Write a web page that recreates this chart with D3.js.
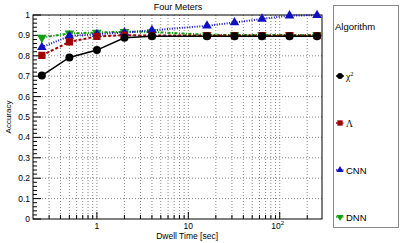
<!DOCTYPE html>
<html>
<head>
<meta charset="utf-8">
<script src="https://d3js.org/d3.v7.min.js"></script>
<style>
  body { margin: 0; background: #fff; }
  svg { font-family: "Liberation Sans", Arial, sans-serif; }
</style>
</head>
<body>
<script>
// data
var dwell = [0.25, 0.5, 1, 2, 4, 16, 32, 64, 128, 256];
var chi2 = [0.703, 0.792, 0.828, 0.888, 0.896, 0.896, 0.896, 0.896, 0.896, 0.896];
var lambda = [0.802, 0.868, 0.895, 0.901, 0.899, 0.899, 0.899, 0.899, 0.899, 0.899];
var cnn = [0.842, 0.897, 0.906, 0.914, 0.925, 0.947, 0.963, 0.981, 0.997, 0.999];
var dnn = [0.889, 0.910, 0.914, 0.918, 0.917, 0.903, 0.902, 0.902, 0.902, 0.902];
var yTicks = [0, 0.1, 0.2, 0.3, 0.4, 0.5, 0.6, 0.7, 0.8, 0.9, 1];

var W = 407, H = 243;
var plot = {left: 33, right: 322, top: 15, bottom: 219};

var svg = d3.select("body").append("svg")
    .attr("width", W).attr("height", H);

var x = d3.scaleLog().domain([0.2, 290]).range([plot.left, plot.right]);
var y = d3.scaleLinear().domain([0, 1]).range([plot.bottom, plot.top]);

// grid lines (dotted) at major and minor log positions
var xGrid = [];
[0.1, 1, 10, 100].forEach(function (dec) {
  for (var k = 1; k < 10; k++) {
    var v = dec * k;
    if (v > 0.2 && v < 290) xGrid.push(v);
  }
});
svg.append("g").selectAll("line").data(xGrid).enter().append("line")
    .attr("x1", d => x(d)).attr("x2", d => x(d))
    .attr("y1", plot.top).attr("y2", plot.bottom)
    .attr("stroke", "#888").attr("stroke-width", 1)
    .attr("stroke-dasharray", "1,2");
svg.append("g").selectAll("line").data(yTicks.slice(1, -1)).enter().append("line")
    .attr("x1", plot.left).attr("x2", plot.right)
    .attr("y1", d => y(d)).attr("y2", d => y(d))
    .attr("stroke", "#888").attr("stroke-width", 1)
    .attr("stroke-dasharray", "1,2");

// frame
svg.append("rect")
    .attr("x", plot.left).attr("y", plot.top)
    .attr("width", plot.right - plot.left).attr("height", plot.bottom - plot.top)
    .attr("fill", "none").attr("stroke", "#000").attr("stroke-width", 1);

// y ticks
var yMinor = d3.range(0, 1.0001, 0.02);
svg.append("g").selectAll("line").data(yMinor).enter().append("line")
    .attr("x1", plot.left).attr("x2", function (d) {
      return plot.left + (Math.abs(d * 10 - Math.round(d * 10)) < 1e-6 ? 8 : 4);
    })
    .attr("y1", d => y(d)).attr("y2", d => y(d))
    .attr("stroke", "#000").attr("stroke-width", 1);
svg.append("g").selectAll("text").data(yTicks).enter().append("text")
    .attr("x", plot.left - 3).attr("y", d => y(d) + 3)
    .attr("text-anchor", "end").attr("font-size", 8.5).attr("fill", "#000")
    .text(d => d === 0 ? "0" : d === 1 ? "1" : d3.format(".1f")(d));

// x ticks
svg.append("g").selectAll("line").data(xGrid).enter().append("line")
    .attr("x1", d => x(d)).attr("x2", d => x(d))
    .attr("y1", plot.bottom)
    .attr("y2", d => plot.bottom - ([1, 10, 100].indexOf(d) >= 0 ? 7 : 4))
    .attr("stroke", "#000").attr("stroke-width", 1);
var xl = svg.append("g").attr("font-size", 8.5).attr("text-anchor", "middle");
xl.append("text").attr("x", x(1)).attr("y", 229).text("1");
xl.append("text").attr("x", x(10)).attr("y", 229).text("10");
var t2 = xl.append("text").attr("x", x(100) - 2).attr("y", 229).text("10");
t2.append("tspan").attr("font-size", 6).attr("dy", -4).text("2");

// titles
svg.append("text").attr("x", 178).attr("y", 10).attr("text-anchor", "middle")
    .attr("font-size", 9).text("Four Meters");
svg.append("text").attr("x", 218).attr("y", 239).attr("text-anchor", "end")
    .attr("font-size", 8.5).text("Dwell Time [sec]");
svg.append("text").attr("transform", "translate(11,117) rotate(-90)")
    .attr("x", 0).attr("y", 0)
    .attr("text-anchor", "middle").attr("font-size", 8).text("Accuracy");

// series
var series = [
  {name: "χ", sup: "2", values: chi2, color: "#000000", dash: null, shape: d3.symbolCircle, size: 50, serif: true},
  {name: "Λ", values: lambda, color: "#a00000", dash: "3,2", shape: d3.symbolSquare, size: 52, serif: true},
  {name: "CNN", values: cnn, color: "#1010c0", dash: "1,1.5", shape: d3.symbolTriangle, size: 40},
  {name: "DNN", values: dnn, color: "#10a010", dash: "3,1.5,1,1.5", shape: d3.symbolTriangle, size: 40, down: true}
];

var line = d3.line().x((d, i) => x(dwell[i])).y(d => y(d));

// draw in reverse so the black curve stays on top like the original
series.slice().reverse().forEach(function (s) {
  svg.append("path").datum(s.values)
      .attr("d", line).attr("fill", "none")
      .attr("stroke", s.color).attr("stroke-width", s.dash ? 2 : 1.5)
      .attr("stroke-dasharray", s.dash);
});
series.slice().reverse().forEach(function (s) {
  svg.append("g").selectAll("path").data(s.values).enter().append("path")
      .attr("d", d3.symbol().type(s.shape).size(s.size))
      .attr("transform", (d, i) => "translate(" + x(dwell[i]) + "," + y(d) + ")" + (s.down ? " rotate(180)" : ""))
      .attr("fill", s.color);
});

// legend
var lg = svg.append("g");
lg.append("rect").attr("x", 333.5).attr("y", 5.5).attr("width", 65).attr("height", 222)
    .attr("fill", "#fff").attr("stroke", "#888").attr("stroke-width", 1);
lg.append("text").attr("x", 335).attr("y", 30).attr("font-size", 9.5).text("Algorithm");
var legendY = [76, 123, 170, 217];
series.forEach(function (s, i) {
  var yy = legendY[i];
  lg.append("line").attr("x1", 336).attr("x2", 344).attr("y1", yy).attr("y2", yy)
      .attr("stroke", s.color).attr("stroke-width", 1.5).attr("stroke-dasharray", s.dash ? "1.5,1" : null);
  lg.append("path").attr("d", d3.symbol().type(s.shape).size(s.size * 0.55))
      .attr("transform", "translate(340," + yy + ")" + (s.down ? " rotate(180)" : ""))
      .attr("fill", s.color);
  var tx = lg.append("text").attr("x", 346).attr("y", yy + 3.5).attr("font-size", 9.5)
      .attr("font-family", s.serif ? "'Liberation Serif', serif" : null)
      .text(s.name);
  if (s.sup) tx.append("tspan").attr("font-size", 6.5).attr("dy", -4).text(s.sup);
});
</script>
</body>
</html>
